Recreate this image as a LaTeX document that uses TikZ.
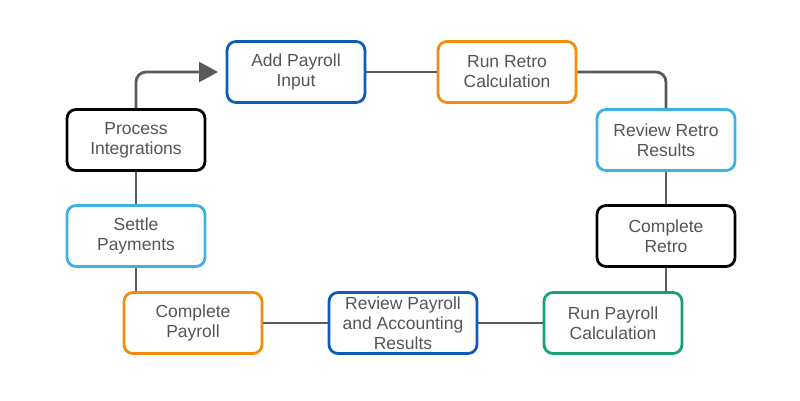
\documentclass[tikz,border=0pt]{standalone}
\usepackage{fontspec}
\setmainfont{Liberation Sans}
\usetikzlibrary{arrows.meta}
\definecolor{dblue}{RGB}{14,92,184}
\definecolor{orng}{RGB}{242,140,10}
\definecolor{lblue}{RGB}{62,178,228}
\definecolor{grn}{RGB}{26,160,120}
\definecolor{txt}{RGB}{85,85,85}
\definecolor{conn}{RGB}{90,90,90}
\begin{document}
\begin{tikzpicture}[x=1pt,y=-1pt,
  box/.style={draw, line width=2.8pt, rounded corners=9pt, fill=white,
    minimum width=138pt, minimum height=61pt, inner sep=0pt,
    align=center, text=txt, font=\fontsize{17.5}{20}\selectfont},
  link/.style={draw=conn, line width=2.8pt}]
\useasboundingbox (0,0) rectangle (800,400);
\node[box, draw=dblue] (api) at (296,72) {Add Payroll\\Input};
\node[box, draw=orng] (rrc) at (507,72) {Run Retro\\Calculation};
\node[box, draw=lblue] (rrr) at (666,140) {Review Retro\\Results};
\node[box, draw=black] (cr) at (666,236) {Complete\\Retro};
\node[box, draw=grn] (rpc) at (613,323) {Run Payroll\\Calculation};
\node[box, draw=dblue, minimum width=148pt] (rpa) at (403,323) {Review Payroll\\and Accounting\\Results};
\node[box, draw=orng] (cp) at (193,323) {Complete\\Payroll};
\node[box, draw=lblue] (sp) at (136,236) {Settle\\Payments};
\node[box, draw=black] (pi) at (136,140) {Process\\Integrations};
\coordinate (tip) at (218,72);
\draw[link] (api) -- (rrc);
\draw[link, rounded corners=10pt] (rrc.east) -| (rrr.north);
\draw[link] (rrr) -- (cr);
\draw[link] (cr.south) -- (cr.south |- rpc.north);
\draw[link] (rpc) -- (rpa);
\draw[link] (rpa) -- (cp);
\draw[link] (sp.south) -- (sp.south |- cp.north);
\draw[link] (sp) -- (pi);
\draw[link, rounded corners=10pt, -{Triangle[length=19pt,width=20pt]}] (pi.north) |- (tip);
\end{tikzpicture}
\end{document}
